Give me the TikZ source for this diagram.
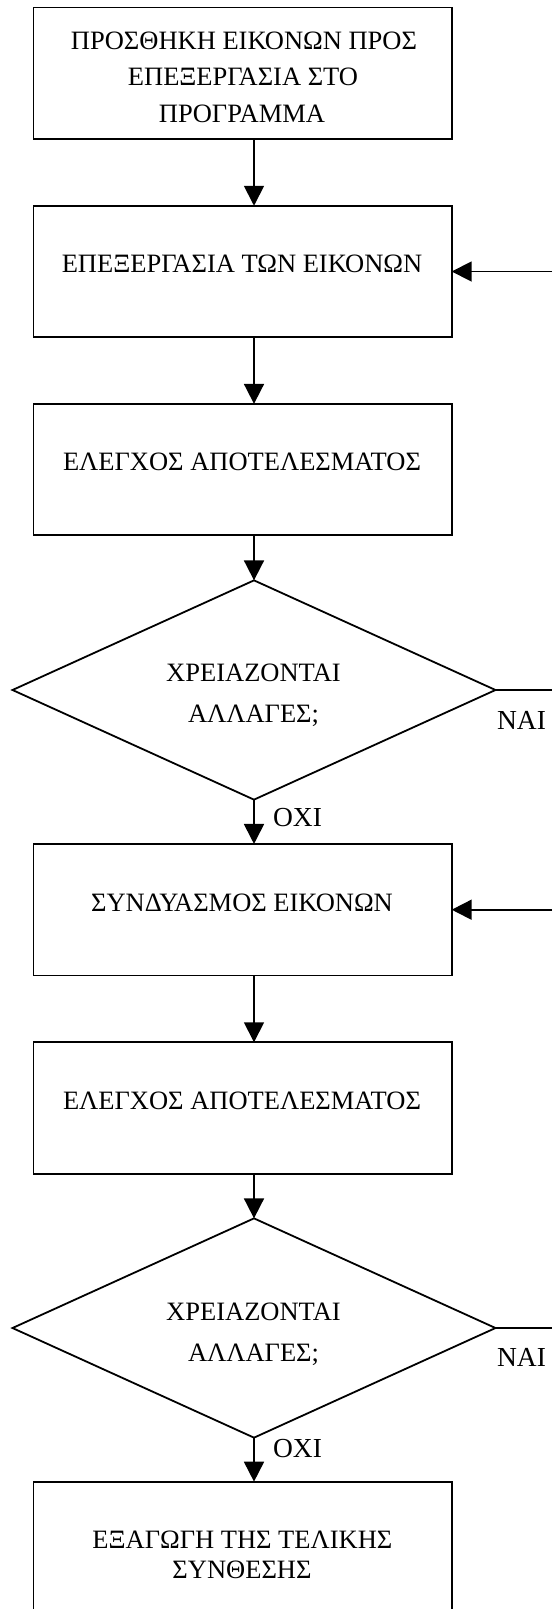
\documentclass[tikz,border=0pt]{standalone}
\usepackage{fontspec}
\setmainfont{Liberation Serif}
\usetikzlibrary{shapes.geometric,arrows.meta}
\begin{document}
\begin{tikzpicture}[x=1pt,y=-1pt]
\tikzset{
  box/.style={draw, line width=1.8pt, minimum width=418.3pt, minimum height=131.5pt, inner sep=0pt, outer sep=0pt},
  dec/.style={draw, diamond, line width=1.8pt, minimum width=483pt, minimum height=219.3pt, inner sep=0pt, outer sep=0pt},
  txt/.style={anchor=base, inner sep=0pt, font=\fontsize{26.5}{30}\selectfont},
  lbl/.style={anchor=base, inner sep=0pt, font=\fontsize{27.5}{30}\selectfont},
  arr/.style={line width=1.8pt, -{Triangle[length=20pt,width=20pt]}},
  ln/.style={line width=1.8pt}
}
\useasboundingbox (0,0) rectangle (552,1609);
% shapes
\node[box] (b1) at (242.55,73.3) {};
\node[box] (b2) at (242.55,271.5) {};
\node[box] (b3) at (242.55,469.6) {};
\node[dec] (d1) at (254,690) {};
\node[box] (b4) at (242.55,909.7) {};
\node[box] (b5) at (242.55,1108) {};
\node[dec] (d2) at (254,1328) {};
\node[box] (b6) at (242.55,1547.4) {};
% texts
\node[txt] (t1a) at (244,49.7) {ΠΡΟΣΘΗΚΗ ΕΙΚΟΝΩΝ ΠΡΟΣ};
\node[txt] (t1b) at (243,85) {ΕΠΕΞΕΡΓΑΣΙΑ ΣΤΟ};
\node[txt] (t1c) at (242,122.7) {ΠΡΟΓΡΑΜΜΑ};
\node[txt] (t2) at (242,272.7) {ΕΠΕΞΕΡΓΑΣΙΑ ΤΩΝ ΕΙΚΟΝΩΝ};
\node[txt] (t3) at (242,470.7) {ΕΛΕΓΧΟΣ ΑΠΟΤΕΛΕΣΜΑΤΟΣ};
\node[txt] (td1a) at (253.5,681) {ΧΡΕΙΑΖΟΝΤΑΙ};
\node[txt] (td1b) at (253.5,722) {ΑΛΛΑΓΕΣ;};
\node[lbl] (nai1) at (521.5,729) {ΝΑΙ};
\node[lbl] (oxi1) at (297.5,826) {ΟΧΙ};
\node[txt] (t4) at (242,911.5) {ΣΥΝΔΥΑΣΜΟΣ ΕΙΚΟΝΩΝ};
\node[txt] (t5) at (242,1109.3) {ΕΛΕΓΧΟΣ ΑΠΟΤΕΛΕΣΜΑΤΟΣ};
\node[txt] (td2a) at (253.5,1320) {ΧΡΕΙΑΖΟΝΤΑΙ};
\node[txt] (td2b) at (253.5,1361) {ΑΛΛΑΓΕΣ;};
\node[lbl] (nai2) at (521.5,1366) {ΝΑΙ};
\node[lbl] (oxi2) at (297.5,1457) {ΟΧΙ};
\node[txt] (t6a) at (242.4,1548) {ΕΞΑΓΩΓΗ ΤΗΣ ΤΕΛΙΚΗΣ};
\node[txt] (t6b) at (242,1578) {ΣΥΝΘΕΣΗΣ};
% edge coordinates
\coordinate (r0) at (552,271.5);
\coordinate (r1) at (552,690);
\coordinate (r2) at (552,909.7);
\coordinate (r3) at (552,1328);
% connectors
\draw[arr] (b1.south -| d1.north) -- (b2.north -| d1.north);
\draw[arr] (b2.south -| d1.north) -- (b3.north -| d1.north);
\draw[arr] (b3.south -| d1.north) -- (d1.north);
\draw[arr] (d1.south) -- (b4.north -| d1.south);
\draw[arr] (b4.south -| d1.north) -- (b5.north -| d1.north);
\draw[arr] (b5.south -| d2.north) -- (d2.north);
\draw[arr] (d2.south) -- (b6.north -| d2.south);
\draw[ln] (d1.east) -- (r1);
\draw[ln] (d2.east) -- (r3);
\draw[arr] (r0) -- (b2.east);
\draw[arr] (r2) -- (b4.east);
\end{tikzpicture}
\end{document}
